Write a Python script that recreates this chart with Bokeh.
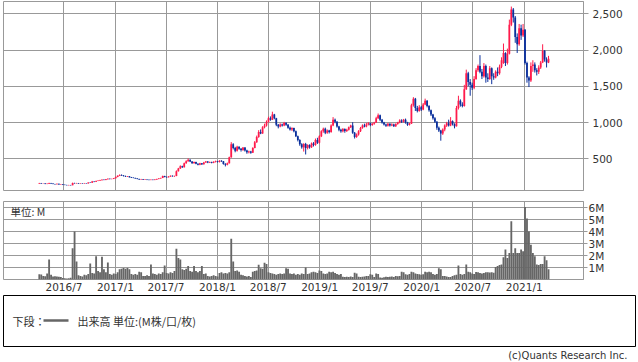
import pandas as pd
from bokeh.plotting import figure
from bokeh.models import (Range1d, FixedTicker, NumeralTickFormatter, PrintfTickFormatter,
                          CustomJSTickFormatter, Label, Title, ColumnDataSource)
from bokeh.layouts import column
from bokeh.embed import file_html
from bokeh.resources import INLINE

# ---------------- data (weekly, first week starting 2016-04-04) ----------------
start_week = "2016-04-04"

opens = [
    158, 165, 160, 161, 153, 156, 166, 158, 152, 148,
    155, 147, 150, 141, 139, 137, 138, 136, 168, 162,
    165, 160, 163, 159, 164, 161, 172, 170, 188, 182,
    195, 198, 205, 212, 208, 218, 225, 220, 223, 232,
    250, 268, 278, 270, 262, 255, 258, 246, 240, 236,
    230, 222, 215, 218, 212, 216, 210, 207, 212, 208,
    214, 222, 230, 236, 262, 250, 245, 256, 265, 258,
    262, 330, 368, 398, 385, 440, 468, 488, 462, 440,
    455, 432, 418, 438, 425, 450, 462, 448, 455, 445,
    458, 468, 455, 472, 465, 430, 418, 440, 520, 700,
    650, 610, 665, 640, 620, 655, 615, 590, 600, 585,
    650, 730, 800, 870, 850, 935, 960, 1010, 1060, 1040,
    1110, 1060, 970, 945, 975, 960, 995, 970, 930, 905,
    925, 880, 810, 760, 700, 660, 705, 650, 690, 660,
    710, 690, 760, 720, 810, 880, 915, 860, 890, 870,
    960, 1040, 1010, 945, 900, 880, 910, 885, 900, 935,
    960, 860, 800, 835, 880, 925, 960, 945, 975, 990,
    965, 985, 1000, 1060, 1100, 1040, 1000, 975, 955, 985,
    960, 975, 950, 980, 1000, 1030, 1010, 1040, 1000, 970,
    985, 1240, 1330, 1200, 1160, 1210, 1180, 1250, 1300, 1230,
    1170, 1110, 1060, 1010, 930, 890, 850, 905, 960, 990,
    960, 1020, 980, 950, 1200, 1300, 1250, 1230, 1460, 1680,
    1560, 1520, 1480, 1600, 1720, 1780, 1700, 1640, 1780, 1620,
    1600, 1750, 1640, 1620, 1700, 1680, 1770, 1820, 1960, 1820,
    1950, 2350, 2560, 2450, 2180, 2080, 2300, 2200, 2280, 1820,
    1620, 1580, 1780, 1800, 1720, 1700, 1760, 1830, 1990, 1870,
    1830,
]

closes = [
    165, 160, 161, 153, 156, 166, 158, 152, 148, 155,
    147, 150, 141, 139, 137, 138, 136, 168, 162, 165,
    160, 163, 159, 164, 161, 172, 170, 188, 182, 195,
    198, 205, 212, 208, 218, 225, 220, 223, 232, 250,
    268, 278, 270, 262, 255, 258, 246, 240, 236, 230,
    222, 215, 218, 212, 216, 210, 207, 212, 208, 214,
    222, 230, 236, 262, 250, 245, 256, 265, 258, 262,
    330, 368, 398, 385, 440, 468, 488, 462, 440, 455,
    432, 418, 438, 425, 450, 462, 448, 455, 445, 458,
    468, 455, 472, 465, 430, 418, 440, 520, 700, 650,
    610, 665, 640, 620, 655, 615, 590, 600, 585, 650,
    730, 800, 870, 850, 935, 960, 1010, 1060, 1040, 1110,
    1060, 970, 945, 975, 960, 995, 970, 930, 905, 925,
    880, 810, 760, 700, 660, 705, 650, 690, 660, 710,
    690, 760, 720, 810, 880, 915, 860, 890, 870, 960,
    1040, 1010, 945, 900, 880, 910, 885, 900, 935, 960,
    860, 800, 835, 880, 925, 960, 945, 975, 990, 965,
    985, 1000, 1060, 1100, 1040, 1000, 975, 955, 985, 960,
    975, 950, 980, 1000, 1030, 1010, 1040, 1000, 970, 985,
    1240, 1330, 1200, 1160, 1210, 1180, 1250, 1300, 1230, 1170,
    1110, 1060, 1010, 930, 890, 850, 905, 960, 990, 960,
    1020, 980, 950, 1200, 1300, 1250, 1230, 1460, 1680, 1560,
    1520, 1480, 1600, 1720, 1780, 1700, 1640, 1780, 1620, 1600,
    1750, 1640, 1620, 1700, 1680, 1770, 1860, 1960, 1820, 1950,
    2350, 2560, 2450, 2180, 2080, 2300, 2200, 2280, 1820, 1620,
    1580, 1780, 1800, 1720, 1700, 1760, 1830, 1990, 1870, 1830,
    1880,
]

highs = [
    168, 167, 164, 163, 160, 170, 168, 160, 155, 158,
    157, 153, 151, 144, 142, 141, 140, 172, 170, 168,
    167, 166, 165, 167, 166, 175, 176, 195, 192, 200,
    205, 210, 218, 216, 222, 230, 228, 228, 236, 256,
    272, 285, 285, 275, 268, 263, 262, 250, 245, 240,
    233, 226, 223, 222, 220, 219, 214, 216, 215, 218,
    226, 234, 240, 268, 266, 256, 260, 270, 270, 268,
    340, 375, 410, 405, 448, 480, 505, 492, 468, 462,
    460, 438, 445, 442, 458, 470, 468, 462, 460, 465,
    475, 472, 480, 480, 470, 440, 448, 530, 730, 715,
    665, 680, 672, 650, 662, 660, 625, 612, 610, 660,
    745, 820, 895, 905, 950, 985, 1030, 1080, 1085, 1150,
    1120, 1065, 980, 990, 985, 1010, 1005, 980, 945, 935,
    930, 890, 820, 770, 715, 715, 720, 700, 700, 725,
    730, 780, 790, 825, 895, 930, 930, 905, 900, 975,
    1075, 1055, 1020, 955, 915, 925, 920, 915, 945, 970,
    1005, 870, 850, 895, 940, 975, 985, 995, 1005, 1000,
    995, 1010, 1080, 1125, 1110, 1050, 1010, 985, 995, 990,
    990, 985, 990, 1010, 1045, 1045, 1050, 1055, 1010, 995,
    1260, 1350, 1340, 1230, 1240, 1230, 1270, 1330, 1310, 1240,
    1180, 1120, 1075, 1020, 945, 900, 920, 975, 1010, 1040,
    1075, 1030, 990, 1230, 1370, 1320, 1280, 1520, 1730, 1700,
    1600, 1550, 1640, 1750, 1800, 1930, 1740, 1820, 1800, 1680,
    1780, 1760, 1680, 1720, 1760, 1800, 1900, 2090, 1970, 2020,
    2420, 2600, 2580, 2470, 2230, 2360, 2350, 2360, 2290, 1840,
    1640, 1830, 1860, 1830, 1750, 1790, 1850, 2080, 2000, 1900,
    1920,
]

lows = [
    155, 157, 156, 150, 150, 154, 155, 149, 145, 146,
    144, 143, 138, 136, 134, 134, 133, 135, 158, 159,
    157, 158, 156, 157, 158, 160, 167, 168, 178, 180,
    192, 195, 202, 204, 205, 214, 215, 216, 220, 230,
    246, 262, 265, 256, 250, 250, 242, 235, 232, 226,
    218, 210, 210, 208, 208, 206, 203, 204, 204, 205,
    210, 218, 226, 234, 245, 240, 242, 252, 254, 252,
    260, 325, 360, 375, 380, 432, 460, 455, 432, 435,
    425, 410, 412, 415, 420, 445, 440, 442, 438, 440,
    450, 448, 450, 458, 420, 395, 410, 435, 515, 630,
    590, 600, 625, 600, 610, 600, 570, 575, 570, 580,
    645, 720, 790, 840, 845, 920, 945, 1000, 1025, 1035,
    1045, 950, 920, 935, 945, 950, 955, 915, 890, 885,
    865, 800, 740, 680, 640, 600, 560, 630, 640, 650,
    670, 680, 705, 710, 800, 860, 840, 845, 850, 860,
    950, 990, 930, 880, 860, 865, 860, 870, 890, 925,
    845, 780, 790, 820, 870, 915, 935, 935, 960, 950,
    955, 970, 995, 1050, 1020, 985, 960, 940, 945, 945,
    950, 940, 940, 970, 990, 995, 1000, 985, 955, 960,
    980, 1220, 1160, 1140, 1150, 1160, 1170, 1240, 1210, 1150,
    1090, 1040, 995, 900, 870, 750, 830, 880, 940, 945,
    950, 960, 920, 945, 1180, 1220, 1210, 1220, 1450, 1500,
    1370, 1450, 1460, 1590, 1700, 1680, 1600, 1620, 1550, 1560,
    1590, 1530, 1590, 1610, 1640, 1660, 1750, 1810, 1780, 1800,
    1940, 2330, 2380, 2100, 1960, 2060, 2140, 2180, 1800, 1550,
    1490, 1560, 1700, 1690, 1650, 1670, 1740, 1820, 1840, 1760,
    1820,
]

volumes_m = [
    0.44, 0.42, 0.3, 0.28, 0.5, 1.67, 0.4, 0.25, 0.28, 0.25,
    0.22, 0.2, 0.12, 0.1, 0.08, 0.1, 0.15, 2.6, 4.0, 1.5,
    0.35, 0.3, 0.25, 0.4, 0.35, 0.45, 1.34, 0.55, 0.5, 1.94,
    0.7, 0.6, 1.9, 0.85, 0.6, 1.42, 0.45, 0.4, 0.5, 0.45,
    0.6, 0.85, 0.9, 0.95, 0.9, 0.95, 0.85, 0.45, 0.4, 0.45,
    0.4, 0.65, 0.6, 0.3, 0.3, 0.35, 0.3, 1.25, 0.5, 0.45,
    0.4, 0.5, 0.45, 0.6, 1.17, 0.55, 0.5, 0.6, 0.55, 0.7,
    2.57, 1.8, 1.67, 0.85, 0.8, 0.9, 1.12, 0.7, 0.65, 1.12,
    0.7, 0.6, 0.7, 1.12, 0.45, 0.5, 0.3, 0.25, 0.3, 0.35,
    0.3, 0.25, 0.55, 0.6, 0.5, 0.55, 0.5, 0.6, 3.4, 1.5,
    0.7, 0.75, 0.65, 0.4, 0.35, 0.3, 0.25, 0.3, 0.2, 0.65,
    0.7, 0.75, 1.23, 0.93, 0.9, 1.4, 1.3, 0.6, 0.55, 0.5,
    0.45, 0.4, 0.45, 0.5, 0.45, 0.5, 0.93, 0.9, 0.5, 0.45,
    0.5, 0.4, 0.45, 0.4, 0.5, 0.45, 1.0, 0.45, 0.5, 0.6,
    0.65, 0.6, 0.55, 0.75, 0.7, 0.5, 0.45, 0.5, 0.65, 0.6,
    0.65, 0.55, 0.45, 0.4, 0.45, 0.22, 0.2, 0.22, 0.2, 0.25,
    0.2, 0.57, 0.5, 0.22, 0.2, 0.22, 0.25, 0.3, 0.3, 0.44,
    0.4, 0.2, 0.5, 0.45, 0.16, 0.15, 0.18, 0.22, 0.2, 0.22,
    0.25, 0.2, 0.3, 0.28, 0.3, 0.65, 0.6, 0.44, 0.4, 0.45,
    0.65, 0.6, 0.5, 0.45, 0.44, 0.4, 0.44, 0.65, 0.6, 0.65,
    0.6, 0.45, 0.4, 0.45, 0.93, 0.85, 0.3, 0.3, 0.25, 0.2,
    0.2, 0.3, 0.35, 0.4, 1.17, 0.45, 0.4, 0.45, 1.26, 0.65,
    0.6, 0.5, 0.45, 0.63, 0.6, 0.55, 0.5, 0.55, 0.6, 0.6,
    0.58, 0.6, 0.57, 1.05, 1.12, 1.2, 1.25, 1.86, 2.5, 1.8,
    2.2, 4.86, 2.2, 2.6, 2.2, 2.2, 2.5, 2.35, 6.04, 5.08,
    4.0, 2.9, 2.2, 1.94, 1.26, 1.2, 1.3, 1.3, 1.94, 1.6,
    0.85,
]

tick_labels = ["2016/7", "2017/1", "2017/7", "2018/1", "2018/7",
               "2019/1", "2019/7", "2020/1", "2020/7", "2021/1"]
price_ticks = [500, 1000, 1500, 2000, 2500]
volume_ticks = [1, 2, 3, 4, 5, 6]

assert len(opens) == len(closes) == len(highs) == len(lows) == len(volumes_m)

# ---------------- derived ----------------
dates = pd.date_range(start_week, periods=len(closes), freq="7D")
DAY = 86400000
UP = "#ff1a4b"
DOWN = "#0a2f9c"
GRID = "#999999"
TXT = "#333333"
FONT = "DejaVu Sans"
JP = "Noto Sans CJK JP"

src = ColumnDataSource(dict(
    x=dates,
    o=opens, c=closes, h=highs, l=lows,
    top=[max(a, b) for a, b in zip(opens, closes)],
    bot=[min(a, b) for a, b in zip(opens, closes)],
    color=[UP if c >= o else DOWN for o, c in zip(opens, closes)],
    v=volumes_m,
))

def ms(s):
    return pd.Timestamp(s).value // 10**6

tick_ms = [ms(t.replace("/", "-") + "-01") for t in tick_labels]
x_range = Range1d(ms("2015-11-28"), ms("2021-08-01"))

def style_common(p):
    p.background_fill_color = "white"
    p.border_fill_color = "white"
    p.outline_line_color = GRID
    p.outline_line_width = 1
    p.outline_line_alpha = 1

# ---------------- price panel ----------------
p1 = figure(width=638, height=197, x_range=x_range, y_range=Range1d(63, 2670),
            x_axis_type="datetime", x_axis_location=None, y_axis_location="right",
            toolbar_location=None, output_backend="svg",
            min_border_left=3, min_border_right=55, min_border_top=1, min_border_bottom=7)
style_common(p1)
p1.xgrid.ticker = FixedTicker(ticks=tick_ms)
p1.ygrid.ticker = FixedTicker(ticks=price_ticks)
for g in (p1.xgrid, p1.ygrid):
    g.grid_line_color = GRID
    g.grid_line_width = 1
    g.grid_line_alpha = 1
ya = p1.yaxis[0]
ya.ticker = FixedTicker(ticks=price_ticks)
ya.formatter = NumeralTickFormatter(format="0,0")
ya.major_tick_out = 5
ya.major_tick_in = 0
ya.minor_tick_line_color = None
ya.major_tick_line_color = GRID
ya.axis_line_color = GRID
ya.major_label_standoff = 4
ya.major_label_text_font = FONT
ya.major_label_text_font_size = "10.5px"
ya.major_label_text_color = TXT

p1.segment(x0="x", y0="l", x1="x", y1="h", color="color", line_width=1, source=src)
p1.vbar(x="x", width=6.3 * DAY, top="top", bottom="bot", fill_color="color",
        line_color=None, source=src)

# ---------------- volume panel ----------------
p2 = figure(width=638, height=98, x_range=x_range, y_range=Range1d(0, 6.5),
            x_axis_type="datetime", y_axis_location="right",
            toolbar_location=None, output_backend="svg",
            min_border_left=3, min_border_right=55, min_border_top=4, min_border_bottom=14)
style_common(p2)
p2.xgrid.ticker = FixedTicker(ticks=tick_ms)
p2.ygrid.ticker = FixedTicker(ticks=volume_ticks)
for g in (p2.xgrid, p2.ygrid):
    g.grid_line_color = GRID
    g.grid_line_width = 1
    g.grid_line_alpha = 1
xa = p2.xaxis[0]
xa.ticker = FixedTicker(ticks=tick_ms)
xa.formatter = CustomJSTickFormatter(code="""
    const d = new Date(tick);
    return d.getUTCFullYear() + "/" + (d.getUTCMonth() + 1);
""")
xa.major_tick_out = 0
xa.major_tick_in = 0
xa.minor_tick_line_color = None
xa.axis_line_color = None
xa.major_label_standoff = 1
xa.major_label_text_font = FONT
xa.major_label_text_font_size = "10.5px"
xa.major_label_text_color = TXT

yb = p2.yaxis[0]
yb.ticker = FixedTicker(ticks=volume_ticks)
yb.formatter = PrintfTickFormatter(format="%dM")
yb.major_tick_out = 4
yb.major_tick_in = 0
yb.minor_tick_line_color = None
yb.major_tick_line_color = GRID
yb.axis_line_color = GRID
yb.major_label_standoff = 1
yb.major_label_text_font = FONT
yb.major_label_text_font_size = "10.5px"
yb.major_label_text_color = TXT

p2.vbar(x="x", width=6.6 * DAY, top="v", bottom=0, fill_color="#666666",
        line_color=None, source=src)
p2.add_layout(Label(x=x_range.start, y=6.5, text="単位: M", text_baseline="top",
                    x_offset=7, y_offset=-2, text_font=JP, text_font_size="10.5px",
                    text_color=TXT))

# ---------------- legend box ----------------
p3 = figure(width=638, height=67, x_range=Range1d(0, 632), y_range=Range1d(0, 51),
            x_axis_location=None, y_axis_location=None,
            toolbar_location=None, output_backend="svg",
            min_border_left=3, min_border_right=3, min_border_top=0, min_border_bottom=16)
p3.background_fill_color = "white"
p3.border_fill_color = "white"
p3.outline_line_color = "black"
p3.outline_line_width = 1
p3.xgrid.visible = False
p3.ygrid.visible = False
p3.add_layout(Label(x=9, y=26, text="下段：", text_baseline="middle",
                    text_font=JP, text_font_size="11px", text_color=TXT))
p3.line(x=[40, 65], y=[26, 26], line_color="#666666", line_width=2.5)
p3.add_layout(Label(x=74, y=26, text="出来高 単位:(M株/口/枚)", text_baseline="middle",
                    text_font=JP, text_font_size="11px", text_color=TXT))
p3.add_layout(Title(text="(c)Quants Research Inc.", align="right", text_font=FONT,
                    text_font_size="10px", text_font_style="normal", text_color=TXT,
                    standoff=2, offset=8), "below")

layout = column(column(p1, p2, spacing=0), column(p3, spacing=0), spacing=0)
open("out.html", "w").write(file_html(layout, INLINE))
